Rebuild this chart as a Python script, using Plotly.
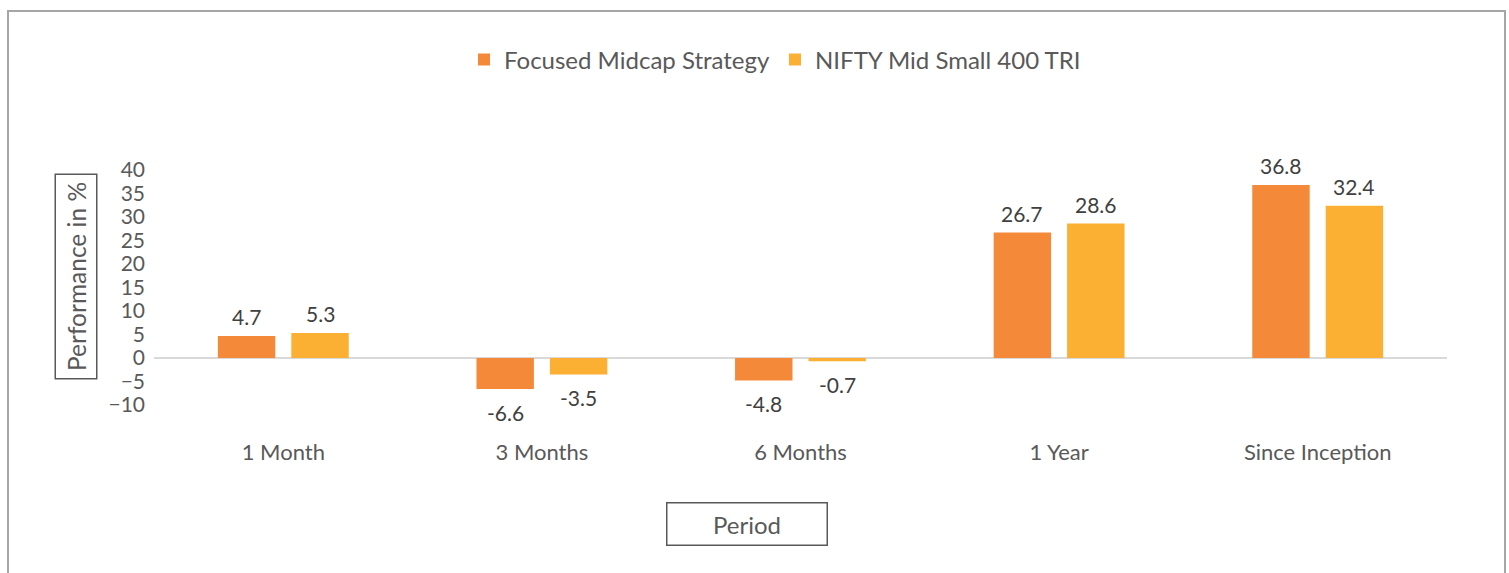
import plotly.graph_objects as go

categories = ["1 Month", "3 Months", "6 Months", "1 Year", "Since Inception"]
focused = [4.7, -6.6, -4.8, 26.7, 36.8]
nifty = [5.3, -3.5, -0.7, 28.6, 32.4]
series_names = ["Focused Midcap Strategy", "NIFTY Mid Small 400 TRI"]
y_ticks = [-10, -5, 0, 5, 10, 15, 20, 25, 30, 35, 40]

W, H = 1509, 573
L, R, T, B = 154, 1447, 170, 405  # plot area in px
FONT = "Lato"
BARGAP = 0.432
BARGROUPGAP = 0.218

def px_x(p):
    return (p - L) / (R - L)

def px_y(p):
    return (B - p) / (B - T)

fig = go.Figure()
colors = ["#F5893A", "#FBB034"]
series = [focused, nifty]
for name, vals, col in zip(series_names, series, colors):
    fig.add_trace(go.Bar(
        x=categories, y=vals, name=name,
        marker=dict(color=col, line=dict(width=0)),
        hoverinfo="x+y+name",
    ))

# data labels as annotations placed at each bar's centre
slot = (1 - BARGAP) / len(series)
for k, vals in enumerate(series):
    off = (k - (len(series) - 1) / 2) * slot
    for i, v in enumerate(vals):
        fig.add_annotation(
            x=i + off, y=v, xref="x", yref="y", text=f"{v:.1f}", showarrow=False,
            xanchor="center", yanchor="middle", yshift=19.5 if v >= 0 else -23,
            font=dict(size=21, color="#404040", family=FONT))

fig.update_layout(
    width=W, height=H,
    margin=dict(l=L, r=W - R, t=T, b=H - B, pad=0),
    paper_bgcolor="white", plot_bgcolor="white",
    barmode="group", bargap=BARGAP, bargroupgap=BARGROUPGAP,
    font=dict(family=FONT, color="#595959", size=20),
    showlegend=True,
    legend=dict(orientation="h", x=px_x(775), xanchor="center", y=px_y(60), yanchor="middle",
                font=dict(size=24, color="#595959", family=FONT), itemwidth=30,
                bgcolor="rgba(0,0,0,0)"),
)
fig.update_xaxes(showgrid=False, showline=False, ticks="", tickfont=dict(size=22, color="#595959"),
                 ticklabelstandoff=32, range=[-0.5, len(categories) - 0.5])
fig.update_yaxes(range=[-10, 40], tickvals=y_ticks, showgrid=False, showline=False, ticks="",
                 zeroline=True, zerolinecolor="#D9D9D9", zerolinewidth=1.5,
                 tickfont=dict(size=21, color="#595959"), ticklabelstandoff=8)

# outer border
fig.add_shape(type="rect", xref="paper", yref="paper",
              x0=px_x(8), x1=px_x(1505), y0=px_y(600), y1=px_y(11),
              line=dict(color="#A6A6A6", width=2), fillcolor="rgba(0,0,0,0)", layer="below")

# y-axis title box
fig.add_annotation(text="Performance in %", xref="paper", yref="paper",
                   x=px_x(76), y=px_y(276.5), xanchor="center", yanchor="middle",
                   textangle=-90, showarrow=False, width=203, height=40,
                   bordercolor="#595959", borderwidth=1.5, borderpad=0,
                   font=dict(size=24.5, color="#595959", family=FONT))
# x-axis title box
fig.add_annotation(text="Period", xref="paper", yref="paper",
                   x=px_x(746.5), y=px_y(523.5), xanchor="center", yanchor="middle",
                   showarrow=False, width=159, height=41,
                   bordercolor="#595959", borderwidth=1.5, borderpad=0,
                   font=dict(size=24, color="#595959", family=FONT))

fig.write_html("out.html", config={"displayModeBar": False},
               post_script="document.body.style.margin='0px';")
